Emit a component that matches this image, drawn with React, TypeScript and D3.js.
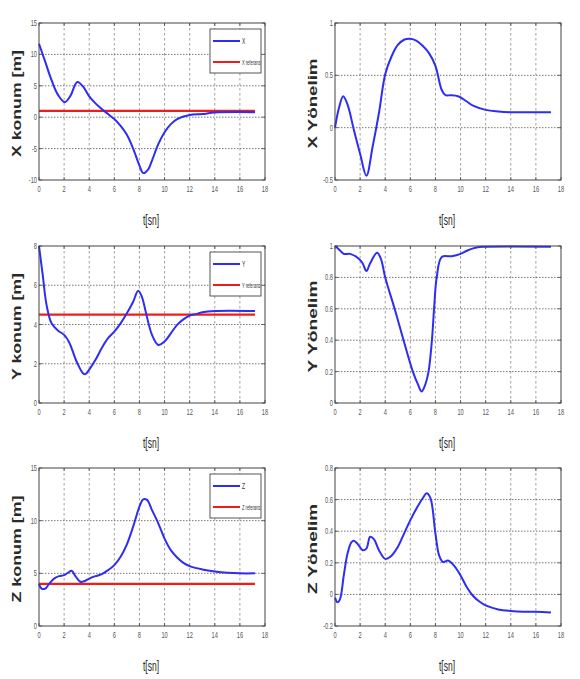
import React from "react";
import * as d3 from "d3";

// ---- data ----
const xPosT = [0, 0.5, 1, 1.5, 2.05, 2.5, 3.05, 3.5, 4, 4.5, 5, 5.5, 6, 6.5, 7, 7.5, 8, 8.3, 8.7, 9, 9.5, 10, 10.5, 11, 12, 13, 14, 17.2];
const xPosV = [11.7, 8.8, 5.9, 3.6, 2.4, 3.4, 5.6, 4.9, 3.3, 2.2, 1.3, 0.5, -0.3, -1.4, -2.8, -5.0, -7.7, -8.9, -8.3, -6.9, -4.3, -2.4, -1.1, -0.3, 0.35, 0.5, 0.75, 0.8];
const xRef = 1.0;

const xOriT = [0, 0.3, 0.65, 1, 1.5, 2, 2.5, 3, 3.5, 4, 4.5, 5, 5.5, 6, 6.5, 7, 7.5, 8, 8.5, 8.8, 9.2, 9.8, 10.5, 11, 12, 13, 14, 17.2];
const xOriV = [0, 0.18, 0.3, 0.22, -0.02, -0.25, -0.46, -0.18, 0.14, 0.51, 0.68, 0.79, 0.84, 0.85, 0.83, 0.78, 0.71, 0.59, 0.36, 0.31, 0.31, 0.3, 0.25, 0.21, 0.17, 0.155, 0.148, 0.148];

const yPosT = [0, 0.3, 0.6, 1, 1.5, 2, 2.4, 3, 3.5, 3.7, 4, 4.5, 5, 5.5, 6, 6.5, 7, 7.5, 7.9, 8.2, 8.5, 9, 9.5, 10, 10.5, 11, 11.5, 12, 12.5, 13, 14, 17.2];
const yPosV = [8.0, 6.5, 5.0, 4.06, 3.7, 3.47, 3.1, 2.1, 1.52, 1.47, 1.7, 2.2, 2.8, 3.3, 3.64, 4.06, 4.57, 5.16, 5.72, 5.4, 4.65, 3.47, 2.96, 3.13, 3.55, 3.98, 4.26, 4.45, 4.53, 4.62, 4.69, 4.69];
const yRef = 4.5;

const yOriT = [0, 0.3, 0.7, 1.2, 1.8, 2.2, 2.5, 2.8, 3.35, 3.65, 4.0, 4.75, 5.46, 6.2, 6.6, 6.9, 7.2, 7.45, 7.72, 7.89, 8.1, 8.5, 9.3, 10, 10.5, 11, 11.5, 12, 17.2];
const yOriV = [1.0, 0.98, 0.95, 0.95, 0.925, 0.89, 0.84, 0.89, 0.957, 0.92, 0.8, 0.6, 0.4, 0.2, 0.12, 0.074, 0.12, 0.2, 0.4, 0.6, 0.8, 0.93, 0.935, 0.95, 0.97, 0.985, 0.994, 0.996, 0.996];

const zPosT = [0, 0.2, 0.5, 0.8, 1.2, 1.6, 2, 2.3, 2.6, 2.9, 3.3, 3.6, 4, 4.5, 5, 5.5, 6, 6.5, 7, 7.5, 8, 8.3, 8.6, 9, 9.5, 10, 10.5, 11, 11.5, 12, 13, 14, 15, 16, 17.2];
const zPosV = [4.0, 3.55, 3.55, 4.0, 4.5, 4.73, 4.83, 5.05, 5.24, 4.73, 4.2, 4.25, 4.5, 4.73, 4.92, 5.3, 5.78, 6.57, 7.75, 9.43, 11.33, 12.03, 11.97, 11.0, 9.75, 8.3, 7.2, 6.5, 6.0, 5.68, 5.37, 5.17, 5.05, 5.0, 5.0];
const zRef = 4.0;

const zOriT = [0, 0.2, 0.4, 0.7, 1, 1.3, 1.5, 1.8, 2.2, 2.5, 2.8, 3.1, 3.5, 4, 4.5, 5, 5.5, 6, 6.5, 7, 7.3, 7.6, 8, 8.3, 8.6, 9, 9.5, 10, 10.5, 11, 11.5, 12, 13, 14, 15, 16, 17.2];
const zOriV = [-0.02, -0.05, -0.03, 0.12, 0.26, 0.33, 0.34, 0.32, 0.28, 0.29, 0.365, 0.35, 0.28, 0.225, 0.245, 0.3, 0.385, 0.47, 0.545, 0.61, 0.64, 0.61, 0.385, 0.245, 0.205, 0.215, 0.18, 0.12, 0.045, -0.01, -0.045, -0.07, -0.095, -0.105, -0.11, -0.11, -0.115];

const tEnd = 17.2;
const xTicks = [0, 2, 4, 6, 8, 10, 12, 14, 16, 18];
const xPosTicks = [-10, -5, 0, 5, 10, 15];
const xOriTicks = [-0.5, 0, 0.5, 1];
const yPosTicks = [0, 2, 4, 6, 8];
const yOriTicks = [0, 0.2, 0.4, 0.6, 0.8, 1];
const zPosTicks = [0, 5, 10, 15];
const zOriTicks = [-0.2, 0, 0.2, 0.4, 0.6, 0.8];

const xLabel = "t[sn]";

type PanelProps = {
  x0: number; x1: number; y0: number; y1: number;
  t: number[]; v: number[];
  yDomain: [number, number]; yTicks: number[];
  yLabel: string; yLabelLen: number; yLabelOff: number;
  refVal?: number; legendMain?: string; legendRef?: string;
};

const BLUE = "#2d2df5";
const RED = "#f01c1c";

function Panel(p: PanelProps) {
  const xs = d3.scaleLinear().domain([0, 18]).range([p.x0, p.x1]);
  const ys = d3.scaleLinear().domain(p.yDomain).range([p.y1, p.y0]);
  const line = d3.line<number>()
    .x((_, i) => xs(p.t[i]))
    .y((d) => ys(d))
    .curve(d3.curveCatmullRom.alpha(0.5));
  const path = line(p.v) || "";
  const tickFont = { fontFamily: "Liberation Sans, Arial, sans-serif", fontSize: 9.5, fill: "#555" };
  const lx = p.x1 - 55, ly = p.y0 + 6;
  return (
    <g>
      <rect x={p.x0} y={p.y0} width={p.x1 - p.x0} height={p.y1 - p.y0} fill="#fff" />
      {xTicks.slice(1, -1).map((d) => (
        <line key={"gx" + d} x1={xs(d)} x2={xs(d)} y1={p.y0} y2={p.y1} stroke="#888" strokeWidth={0.8} strokeDasharray="2.5,2.5" />
      ))}
      {p.yTicks.slice(1, -1).map((d) => (
        <line key={"gy" + d} x1={p.x0} x2={p.x1} y1={ys(d)} y2={ys(d)} stroke="#555" strokeWidth={0.8} strokeDasharray="1.5,1.5" />
      ))}
      {p.refVal !== undefined && (
        <line x1={xs(0)} x2={xs(tEnd)} y1={ys(p.refVal)} y2={ys(p.refVal)} stroke={RED} strokeWidth={2.2} />
      )}
      <path d={path} fill="none" stroke={BLUE} strokeWidth={2} strokeLinejoin="round" />
      <rect x={p.x0} y={p.y0} width={p.x1 - p.x0} height={p.y1 - p.y0} fill="none" stroke="#444" strokeWidth={1} />
      {xTicks.map((d) => (
        <g key={"tx" + d}>
          <line x1={xs(d)} x2={xs(d)} y1={p.y1} y2={p.y1 - 3} stroke="#444" strokeWidth={0.8} />
          <line x1={xs(d)} x2={xs(d)} y1={p.y0} y2={p.y0 + 3} stroke="#444" strokeWidth={0.8} />
          <text transform={`translate(${xs(d)},${p.y1 + 12}) scale(0.6,1)`} textAnchor="middle" style={tickFont}>{d}</text>
        </g>
      ))}
      {p.yTicks.map((d) => (
        <g key={"ty" + d}>
          <line x1={p.x0} x2={p.x0 + 3} y1={ys(d)} y2={ys(d)} stroke="#444" strokeWidth={0.8} />
          <line x1={p.x1} x2={p.x1 - 3} y1={ys(d)} y2={ys(d)} stroke="#444" strokeWidth={0.8} />
          <text transform={`translate(${p.x0 - 2},${ys(d) + 3}) scale(0.6,1)`} textAnchor="end" style={tickFont}>{d}</text>
        </g>
      ))}
      <text x={(p.x0 + p.x1) / 2 - 1} y={p.y1 + 45} textAnchor="middle" textLength={16} lengthAdjust="spacingAndGlyphs"
        style={{ fontFamily: "Liberation Sans, Arial, sans-serif", fontSize: 15, fill: "#222" }}>{xLabel}</text>
      <text transform={`translate(${p.x0 - p.yLabelOff},${(p.y0 + p.y1) / 2 + 2}) rotate(-90)`} textAnchor="middle"
        textLength={p.yLabelLen} lengthAdjust="spacingAndGlyphs"
        style={{ fontFamily: "Liberation Sans, Arial, sans-serif", fontSize: 12.5, fontWeight: "bold", fill: "#2a2a2a" }}>{p.yLabel}</text>
      {p.legendMain && (
        <g>
          <rect x={lx} y={ly} width={51} height={44} fill="#fff" stroke="#444" strokeWidth={0.9} />
          <line x1={lx + 3} x2={lx + 30} y1={ly + 12} y2={ly + 12} stroke={BLUE} strokeWidth={2} />
          <line x1={lx + 3} x2={lx + 30} y1={ly + 33} y2={ly + 33} stroke={RED} strokeWidth={2} />
          <text transform={`translate(${lx + 32},${ly + 15}) scale(0.55,1)`} style={{ fontFamily: "Liberation Sans, Arial, sans-serif", fontSize: 9, fill: "#333" }}>{p.legendMain}</text>
          <text transform={`translate(${lx + 32},${ly + 36}) scale(0.5,1)`} style={{ fontFamily: "Liberation Sans, Arial, sans-serif", fontSize: 8, fill: "#333" }}>{p.legendRef}</text>
        </g>
      )}
    </g>
  );
}

export default function App() {
  const L = { x0: 39, x1: 265 };
  const R = { x0: 335, x1: 561 };
  const rows = [
    { y0: 23, y1: 180 },
    { y0: 246, y1: 403 },
    { y0: 468, y1: 626 },
  ];
  return (
    <svg width={580} height={679} style={{ position: "absolute", left: 0, top: 0, background: "#fff" }}>
      <rect x={0} y={0} width={580} height={679} fill="#fff" />
      <Panel {...L} {...rows[0]} t={xPosT} v={xPosV} yDomain={[-10, 15]} yTicks={xPosTicks}
        yLabel="X konum [m]" yLabelLen={107} yLabelOff={18} refVal={xRef} legendMain="X" legendRef="X referans" />
      <Panel {...R} {...rows[0]} t={xOriT} v={xOriV} yDomain={[-0.5, 1]} yTicks={xOriTicks}
        yLabel="X Yönelim" yLabelLen={90} yLabelOff={18} />
      <Panel {...L} {...rows[1]} t={yPosT} v={yPosV} yDomain={[0, 8]} yTicks={yPosTicks}
        yLabel="Y konum [m]" yLabelLen={107} yLabelOff={18} refVal={yRef} legendMain="Y" legendRef="Y referans" />
      <Panel {...R} {...rows[1]} t={yOriT} v={yOriV} yDomain={[0, 1]} yTicks={yOriTicks}
        yLabel="Y Yönelim" yLabelLen={92} yLabelOff={18} />
      <Panel {...L} {...rows[2]} t={zPosT} v={zPosV} yDomain={[0, 15]} yTicks={zPosTicks}
        yLabel="Z konum [m]" yLabelLen={107} yLabelOff={18} refVal={zRef} legendMain="Z" legendRef="Z referans" />
      <Panel {...R} {...rows[2]} t={zOriT} v={zOriV} yDomain={[-0.2, 0.8]} yTicks={zOriTicks}
        yLabel="Z Yönelim" yLabelLen={90} yLabelOff={18} />
    </svg>
  );
}
